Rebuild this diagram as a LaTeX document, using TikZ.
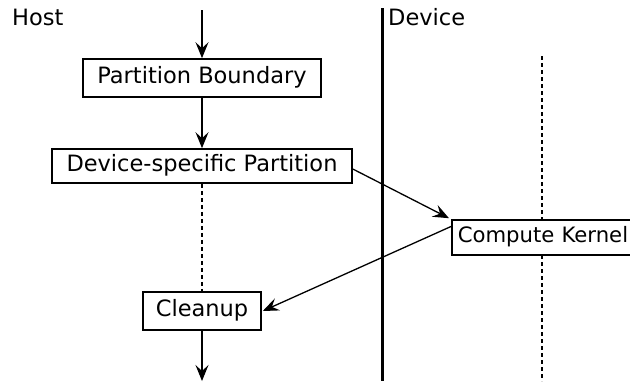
\documentclass[tikz,border=0pt]{standalone}
\usepackage{fontspec}
\setmainfont{DejaVu Sans}
\usetikzlibrary{arrows.meta}
\begin{document}
\begin{tikzpicture}[x=1pt,y=-1pt,
  every node/.style={font=\fontsize{22.5}{26}\selectfont, inner sep=0pt},
  box/.style={draw, line width=1.6pt, fill=white, text height=15pt, text depth=5pt},
  flow/.style={line width=1.3pt, -{Stealth[length=16pt,width=13pt,inset=6pt]}},
  life/.style={line width=1.2pt, dash pattern=on 4pt off 3pt}]
\useasboundingbox (0,0) rectangle (630,381);
\clip (0,0) rectangle (630,381);
% labels
\node[anchor=base west] (host) at (12,25) {Host};
\node[anchor=base west] (dev) at (388,25) {Device};
% lanes
\coordinate (lt) at (382.5,8);
\coordinate (lb) at (382.5,381);
\draw[line width=3pt] (lt) -- (lb);
\coordinate (dt) at (542,56);
\coordinate (db) at (542,381);
% boxes
\node[box, minimum width=238pt, minimum height=38pt] (pb) at (202,78) {Partition Boundary};
\node[box, minimum width=300pt, minimum height=34pt] (dsp) at (202,166) {Device-specific Partition};
\node[box, minimum width=118pt, minimum height=38pt] (cl) at (202,311) {Cleanup};
\draw[life] (dt) -- (542,220);
\draw[life] (542,255) -- (db);
\node[box, inner xsep=6pt, minimum height=35pt, anchor=west, text width=184pt, align=left, font=\fontsize{21.2}{25}\selectfont] (ck) at (451,237.5) {Compute Kernel};
% connectors
\coordinate (top) at (202,10);
\coordinate (bot) at (202,381);
\draw[flow] (top) -- (pb.north);
\draw[flow] (pb.south) -- (dsp.north);
\draw[life] (dsp.south) -- (cl.north);
\draw[flow] (cl.south) -- (bot);
\draw[flow] ([yshift=-3pt]dsp.east) -- ([xshift=-2pt,yshift=1pt]ck.north west);
\draw[flow] ([yshift=11pt]ck.west) -- ([xshift=1pt]cl.east);
\end{tikzpicture}
\end{document}
